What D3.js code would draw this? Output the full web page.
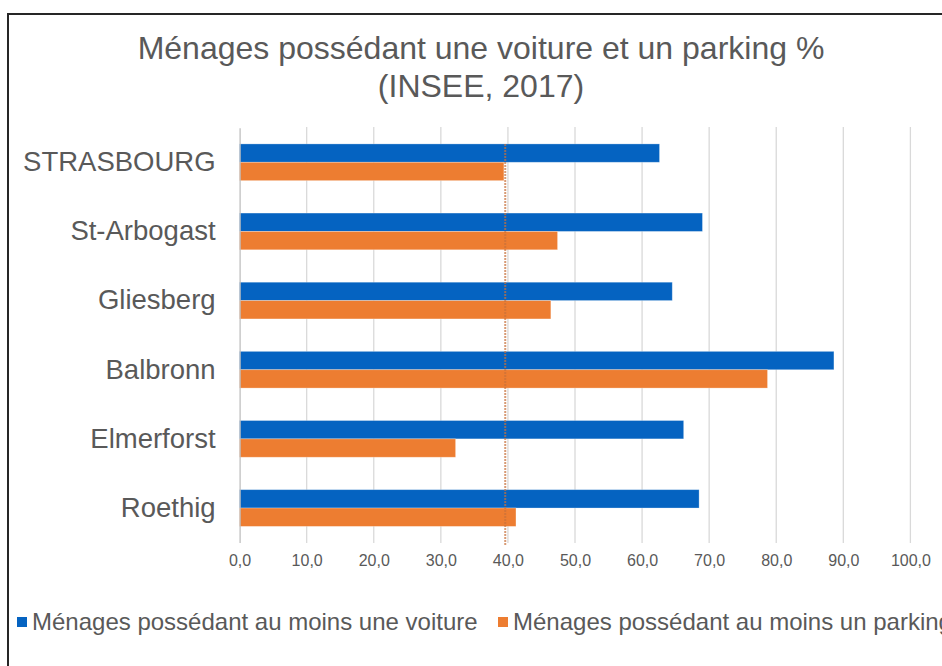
<!DOCTYPE html>
<html lang="fr">
<head>
<meta charset="UTF-8">
<script src="https://d3js.org/d3.v7.min.js"></script>
<title>Ménages voiture parking</title>
<style>
  body { margin: 0; background: #fff; }
  svg text { font-family: "Liberation Sans", Arial, sans-serif; fill: #595959; }
</style>
</head>
<body>
<div id="chart"></div>
<script>
// data
var categories = ['STRASBOURG', 'St-Arbogast', 'Gliesberg', 'Balbronn', 'Elmerforst', 'Roethig'];
var voiture = [62.6, 69.0, 64.5, 88.6, 66.2, 68.5];
var parking = [39.4, 47.4, 46.4, 78.7, 32.2, 41.2];
var xTicks = [0, 10, 20, 30, 40, 50, 60, 70, 80, 90, 100];
var refValue = 39.6;
var seriesNames = ['Ménages possédant au moins une voiture', 'Ménages possédant au moins un parking'];
var colors = ['#0563c1', '#ed7d31'];

var width = 942, height = 666;

var svg = d3.select('#chart').append('svg')
    .attr('width', width)
    .attr('height', height);

// chart frame (runs off right/bottom like the screenshot)
svg.append('rect')
    .attr('x', 8).attr('y', 14)
    .attr('width', 980).attr('height', 700)
    .attr('fill', 'none')
    .attr('stroke', '#262626')
    .attr('stroke-width', 2);

// title
var title = svg.append('text')
    .attr('text-anchor', 'middle')
    .style('font-size', '32px');
title.append('tspan').attr('x', 481).attr('y', 59).text('Ménages possédant une voiture et un parking %');
title.append('tspan').attr('x', 481).attr('y', 97).text('(INSEE, 2017)');

var x = d3.scaleLinear().domain([0, 100]).range([239.6, 910.4]);
var y = d3.scaleBand().domain(categories).range([127.7, 542.6])
    .paddingInner(0.469).paddingOuter(0.2345);
var ySub = d3.scaleBand().domain([0, 1]).range([0, y.bandwidth()]);

// gridlines
svg.append('g').selectAll('line')
    .data(xTicks.slice(1))
    .enter().append('line')
    .attr('x1', function(d) { return x(d); })
    .attr('x2', function(d) { return x(d); })
    .attr('y1', 127).attr('y2', 543)
    .attr('stroke', '#d9d9d9')
    .attr('stroke-width', 1.3);

// x tick labels
var xAxis = d3.axisBottom(x).tickValues(xTicks).tickSize(0)
    .tickFormat(function(d) { return d3.format('.1f')(d).replace('.', ','); });
var gx = svg.append('g').attr('transform', 'translate(0,543)').call(xAxis);
gx.select('.domain').remove();
gx.selectAll('text')
    .attr('dy', null).attr('y', 23)
    .style('font-size', '16px')
    .style('font-family', '"Liberation Sans", Arial, sans-serif')
    .attr('fill', '#595959');

// bars
var rows = categories.map(function(c, i) { return { cat: c, vals: [voiture[i], parking[i]] }; });
var groups = svg.append('g').selectAll('g')
    .data(rows)
    .enter().append('g')
    .attr('transform', function(d) { return 'translate(0,' + y(d.cat) + ')'; });

groups.selectAll('rect')
    .data(function(d) { return d.vals.map(function(v, k) { return { v: v, k: k }; }); })
    .enter().append('rect')
    .attr('x', x(0))
    .attr('y', function(d) { return ySub(d.k); })
    .attr('width', function(d) { return x(d.v) - x(0); })
    .attr('height', ySub.bandwidth())
    .attr('fill', function(d) { return colors[d.k]; })
    .attr('stroke', '#ffffff')
    .attr('stroke-opacity', 0.35)
    .attr('stroke-width', 0.8);

// category axis
var yAxis = d3.axisLeft(y).tickSize(0).tickPadding(24);
var gy = svg.append('g').attr('transform', 'translate(' + x(0) + ',0)').call(yAxis);
gy.select('.domain').attr('stroke', '#bfbfbf').attr('stroke-width', 1.3);
gy.selectAll('text')
    .style('font-size', '27.5px')
    .style('font-family', '"Liberation Sans", Arial, sans-serif')
    .attr('fill', '#595959');

// reference line around 40
svg.append('line')
    .attr('x1', x(refValue)).attr('x2', x(refValue))
    .attr('y1', y(categories[0])).attr('y2', 546)
    .attr('stroke', '#c8703a')
    .attr('stroke-opacity', 0.7)
    .attr('stroke-width', 2)
    .attr('stroke-dasharray', '2,1');

// legend (second entry runs off the right edge, as in the source image)
var legendX = [17, 498];
var legend = svg.append('g').selectAll('g')
    .data(seriesNames)
    .enter().append('g')
    .attr('transform', function(d, i) { return 'translate(' + legendX[i] + ',617)'; });
legend.append('rect')
    .attr('width', 10).attr('height', 10)
    .attr('fill', function(d, i) { return colors[i]; });
legend.append('text')
    .attr('x', 15).attr('y', 5)
    .attr('dy', '0.35em')
    .style('font-size', '24px')
    .text(function(d) { return d; });
</script>
</body>
</html>
